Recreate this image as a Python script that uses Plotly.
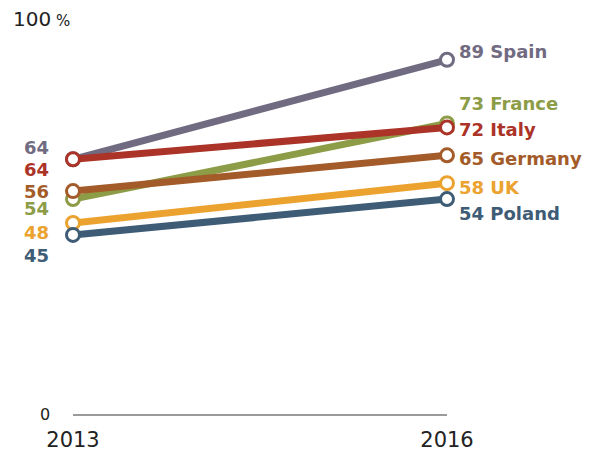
import plotly.graph_objects as go

years = [2013, 2016]
countries = ["Spain", "France", "Italy", "Germany", "UK", "Poland"]
values_2013 = [64, 54, 64, 56, 48, 45]
values_2016 = [89, 73, 72, 65, 58, 54]
colors = ["#716b82", "#8d9c47", "#ab3327", "#a35b29", "#eba22e", "#3e5c75"]
# label nudges (pixels) to avoid overlaps
left_shift = [12, -9, -10, 0, -10, -21]
right_shift = [8, 20, -2, -3, -4, -14]

fig = go.Figure()
for name, v0, v1, c in zip(countries, values_2013, values_2016, colors):
    fig.add_trace(go.Scatter(
        x=years, y=[v0, v1], mode="lines+markers", name=name,
        line=dict(color=c, width=7),
        marker=dict(size=13, color="white", line=dict(color=c, width=3)),
        cliponaxis=False, hoverinfo="skip", showlegend=False,
    ))

annotations = []
lab_font = "DejaVu Sans"
for name, v0, v1, c, ls, rs in zip(countries, values_2013, values_2016, colors, left_shift, right_shift):
    annotations.append(dict(x=years[0], y=v0, text=f"<b>{v0}</b>", showarrow=False,
                            xanchor="right", yanchor="middle", xshift=-22, yshift=ls,
                            font=dict(family=lab_font, size=18, color=c)))
    annotations.append(dict(x=years[1], y=v1, text=f"<b>{v1} {name}</b>", showarrow=False,
                            xanchor="left", yanchor="middle", xshift=10, yshift=rs,
                            font=dict(family=lab_font, size=18, color=c)))

annotations.append(dict(x=years[0], y=0, text="0", showarrow=False, xanchor="right",
                        yanchor="middle", xshift=-21,
                        font=dict(family=lab_font, size=16, color="#222")))
annotations.append(dict(xref="paper", x=0, y=100, text="100<span style='font-size:15px'> %</span>",
                        showarrow=False, xanchor="left", yanchor="middle", xshift=-62, yshift=-3,
                        font=dict(family=lab_font, size=20, color="#222")))
fig.update_layout(
    width=596, height=454,
    margin=dict(l=65, r=157, t=8, b=48),
    paper_bgcolor="white", plot_bgcolor="white",
    annotations=annotations,
    xaxis=dict(range=[2013, 2016], tickvals=years, ticktext=[str(y) for y in years],
               showgrid=False, zeroline=False, showline=True, linecolor="#9a9a9a", linewidth=2,
               ticks="outside", ticklen=6, tickcolor="rgba(0,0,0,0)", automargin=False,
               tickfont=dict(family=lab_font, size=21, color="#222")),
    yaxis=dict(range=[0, 100], showgrid=False, zeroline=False, showticklabels=False,
               showline=False, automargin=False),
)
fig.write_html("out.html")
